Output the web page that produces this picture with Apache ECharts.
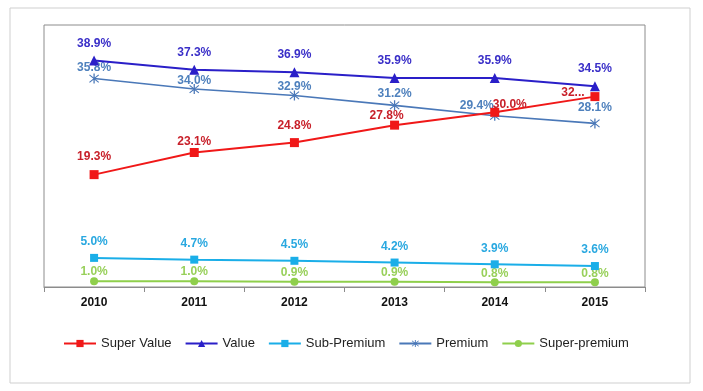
<!DOCTYPE html>
<html>
<head>
<meta charset="utf-8">
<script src="https://cdn.jsdelivr.net/npm/echarts@6/dist/echarts.min.js"></script>
<style>
html,body{margin:0;padding:0;background:#fff;}
#chart{width:703px;height:391px;}
</style>
</head>
<body>
<div id="chart"></div>
<script>
const categories = ['2010', '2011', '2012', '2013', '2014', '2015'];
const superValue = [19.3, 23.1, 24.8, 27.8, 30.0, 32.7];
const value = [38.9, 37.3, 36.9, 35.9, 35.9, 34.5];
const subPremium = [5.0, 4.7, 4.5, 4.2, 3.9, 3.6];
const premium = [35.8, 34.0, 32.9, 31.2, 29.4, 28.1];
const superPremium = [1.0, 1.0, 0.9, 0.9, 0.8, 0.8];

const FONT = '"Liberation Sans", Arial, sans-serif';
const asterisk = 'path://M4.4 0 L5.6 0 L5.6 10 L4.4 10 Z M0.3 1.6 L1 0.9 L9.7 8.4 L9 9.1 Z M9 0.9 L9.7 1.6 L1 9.1 L0.3 8.4 Z';

// per-point label tweaks (styling only)
const svLabelTweaks = {
  0: {distance: 7},
  1: {distance: 0},
  2: {distance: 6},
  3: {distance: -1, offset: [-8, 0]},
  4: {distance: 0, offset: [15, 3]},
  5: {distance: 0, offset: [-22, 7], width: 25, overflow: 'truncate', ellipsis: '...'}
};
const prLabelTweaks = {
  0: {distance: 0},
  1: {distance: -2.5},
  2: {distance: -2},
  3: {distance: 1},
  4: {distance: 0, offset: [-18, 1]},
  5: {distance: 5}
};

function withTweaks(arr, tweaks) {
  return arr.map((v, i) => tweaks[i] ? {value: v, label: tweaks[i]} : v);
}

function labelStyle(color, distance) {
  return {
    show: true, position: 'top', distance: distance,
    color: color, fontFamily: FONT, fontWeight: 'bold', fontSize: 12,
    formatter: p => p.value.toFixed(1) + '%'
  };
}

const chart = echarts.init(document.getElementById('chart'));
chart.setOption({
  animation: false,
  backgroundColor: '#fff',
  graphic: [{
    type: 'rect', shape: {x: 10, y: 8, width: 680, height: 375},
    style: {fill: 'none', stroke: '#cfcfcf', lineWidth: 1}, silent: true, z: -1
  }],
  grid: {left: 44, right: 58, top: 25, bottom: 104, show: true, borderColor: '#8c8c8c', borderWidth: 1},
  legend: {
    left: 63, top: 337, padding: 0, itemWidth: 32, itemHeight: 9, itemGap: 13,
    textStyle: {fontFamily: FONT, fontSize: 13, color: '#222'},
    data: ['Super Value', 'Value', 'Sub-Premium', 'Premium', 'Super-premium']
  },
  xAxis: {
    type: 'category', data: categories, boundaryGap: true,
    axisLine: {lineStyle: {color: '#8c8c8c', width: 1}},
    axisTick: {show: true, length: 5, lineStyle: {color: '#8c8c8c'}},
    axisLabel: {fontFamily: FONT, fontWeight: 'bold', fontSize: 12, color: '#111', margin: 10}
  },
  yAxis: {
    type: 'value', min: 0, max: 45, show: false, splitLine: {show: false}
  },
  series: [
    {
      name: 'Super Value', type: 'line', data: withTweaks(superValue, svLabelTweaks),
      symbol: 'rect', symbolSize: 9,
      lineStyle: {color: '#f01818', width: 2}, itemStyle: {color: '#f01818'},
      label: labelStyle('#c8202a', 6), z: 5
    },
    {
      name: 'Value', type: 'line', data: value,
      symbol: 'triangle', symbolSize: 10,
      lineStyle: {color: '#2a1fc8', width: 2}, itemStyle: {color: '#2a1fc8'},
      label: labelStyle('#3a2fc8', 6), z: 4
    },
    {
      name: 'Sub-Premium', type: 'line', data: subPremium,
      symbol: 'rect', symbolSize: 8,
      lineStyle: {color: '#1aaee8', width: 2}, itemStyle: {color: '#1aaee8'},
      label: labelStyle('#29a8e0', 6), z: 3
    },
    {
      name: 'Premium', type: 'line', data: withTweaks(premium, prLabelTweaks),
      symbol: asterisk, symbolSize: 10,
      lineStyle: {color: '#4a78b8', width: 1.6}, itemStyle: {color: '#4a78b8'},
      label: labelStyle('#4f81bd', -2), z: 3
    },
    {
      name: 'Super-premium', type: 'line', data: superPremium,
      symbol: 'circle', symbolSize: 8,
      lineStyle: {color: '#8fcf4c', width: 2}, itemStyle: {color: '#8fcf4c'},
      label: labelStyle('#98d05a', -1), z: 2
    }
  ]
});
</script>
</body>
</html>
